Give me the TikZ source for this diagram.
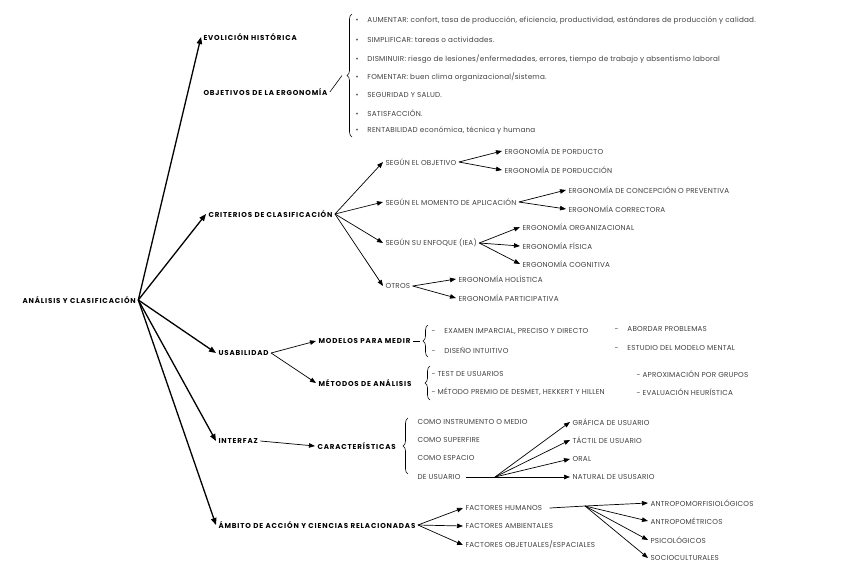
\documentclass[tikz,border=0pt]{standalone}
\usepackage{fontspec}
\setmainfont{Poppins}
\newfontfamily\itemfont[LetterSpace=3]{Poppins}
\newfontfamily\headfont[LetterSpace=12]{Poppins}
\usetikzlibrary{arrows.meta,decorations.pathreplacing}

\begin{document}
\begin{tikzpicture}[
    x=1pt, y=-1pt,
    head/.style={
        font=\headfont\bfseries\fontsize{7.1}{8}\selectfont,
        anchor=west,
        inner sep=1pt,
        outer sep=1.5pt
    },
    item/.style={
        font=\itemfont\fontsize{7.2}{8}\selectfont,
        text=black!75,
        anchor=west,
        inner sep=1pt,
        outer sep=1.5pt
    },
    arr/.style={
        -{Triangle[length=6pt,width=4.5pt]},
        line width=0.7pt
    },
    bigarr/.style={
        -{Triangle[length=7pt,width=5.5pt]},
        line width=1.3pt
    },
    brc/.style={
        decorate,
        decoration={brace, amplitude=5pt},
        line width=0.6pt
    }
]

\useasboundingbox (0,0) rectangle (848,587);

% ============================================================
% Root
% ============================================================

\node[head] (root) at (20,300)
{ANÁLISIS Y CLASIFICACIÓN};

\node[head] (evol) at (201,37)
{EVOLICIÓN HISTÓRICA};

\node[head] (criter) at (206,214)
{CRITERIOS DE CLASIFICACIÓN};

\node[head] (usab) at (216,353)
{USABILIDAD};

\node[head] (interf) at (216,441)
{INTERFAZ};

\node[head] (ambito) at (216,525)
{ÁMBITO DE ACCIÓN Y CIENCIAS RELACIONADAS};

\draw[bigarr] (root.east) -- (evol.west);
\draw[bigarr] (root.east) -- (criter.west);
\draw[bigarr] (root.east) -- (usab.west);
\draw[bigarr] (root.east) -- (interf.west);
\draw[bigarr] (root.east) -- (ambito.west);

% ============================================================
% Objetivos
% ============================================================

\node[head] (objet) at (201,92)
{OBJETIVOS DE LA ERGONOMÍA};

\draw[brc] (352,137) -- (352,14) coordinate[pos=0.5,xshift=-10pt] (objtip);
\draw[line width=0.6pt] (objet.east) -- (objtip);

\node[item] (obj1) at (353,21)
{•\hspace{9pt}AUMENTAR: confort, tasa de producción, eficiencia, productividad, estándares de producción y calidad.};
\node[item] (obj2) at (353,40)
{•\hspace{9pt}SIMPLIFICAR: tareas o actividades.};
\node[item] (obj3) at (353,59)
{•\hspace{9pt}DISMINUIR: riesgo de lesiones/enfermedades, errores, tiempo de trabajo y absentismo laboral};
\node[item] (obj4) at (353,77)
{•\hspace{9pt}FOMENTAR: buen clima organizacional/sistema.};
\node[item] (obj5) at (353,95)
{•\hspace{9pt}SEGURIDAD Y SALUD.};
\node[item] (obj6) at (353,113)
{•\hspace{9pt}SATISFACCIÓN.};
\node[item] (obj7) at (353,131)
{•\hspace{9pt}RENTABILIDAD económica, técnica y humana};

% ============================================================
% Criterios
% ============================================================

\node[item] (segobj) at (383,162) {SEGÚN EL OBJETIVO};
\node[item] (segmom) at (383,202) {SEGÚN EL MOMENTO DE APLICACIÓN};
\node[item] (segenf) at (383,243) {SEGÚN SU ENFOQUE (IEA)};
\node[item] (otros) at (383,286) {OTROS};

\draw[arr] (criter.east) -- (segobj.west);
\draw[arr] (criter.east) -- (segmom.west);
\draw[arr] (criter.east) -- (segenf.west);
\draw[arr] (criter.east) -- (otros.west);

\node[item] (eprod) at (502,151) {ERGONOMÍA DE PORDUCTO};
\node[item] (eprodc) at (502,170) {ERGONOMÍA DE PORDUCCIÓN};
\draw[arr] (segobj.east) -- (eprod.west);
\draw[arr] (segobj.east) -- (eprodc.west);

\node[item] (econc) at (566,190) {ERGONOMÍA DE CONCEPCIÓN O PREVENTIVA};
\node[item] (ecorr) at (566,209) {ERGONOMÍA CORRECTORA};
\draw[arr] (segmom.east) -- (econc.west);
\draw[arr] (segmom.east) -- (ecorr.west);

\node[item] (eorg) at (520,227) {ERGONOMÍA ORGANIZACIONAL};
\node[item] (efis) at (520,246) {ERGONOMÍA FÍSICA};
\node[item] (ecog) at (520,264) {ERGONOMÍA COGNITIVA};
\draw[arr] (segenf.east) -- (eorg.west);
\draw[arr] (segenf.east) -- (efis.west);
\draw[arr] (segenf.east) -- (ecog.west);

\node[item] (ehol) at (456,279) {ERGONOMÍA HOLÍSTICA};
\node[item] (epart) at (456,298) {ERGONOMÍA PARTICIPATIVA};
\draw[arr] (otros.east) -- (ehol.west);
\draw[arr] (otros.east) -- (epart.west);

% ============================================================
% Usabilidad
% ============================================================

\node[head] (modelos) at (316,341) {MODELOS PARA MEDIR};
\node[head] (metodos) at (316,383) {MÉTODOS DE ANÁLISIS};
\draw[arr] (usab.east) -- (modelos.west);
\draw[arr] (usab.east) -- (metodos.west);

\draw[brc] (428,357) -- (428,325) coordinate[pos=0.5,xshift=-8pt] (modtip);
\draw[line width=0.6pt] (modelos.east) -- (modtip);

\node[item] (mod1) at (429,331) {-\hspace{9pt}EXAMEN IMPARCIAL, PRECISO Y DIRECTO};
\node[item] (mod2) at (429,350) {-\hspace{9pt}DISEÑO INTUITIVO};
\node[item] (mod3) at (612,329) {-\hspace{9pt}ABORDAR PROBLEMAS};
\node[item] (mod4) at (612,348) {-\hspace{9pt}ESTUDIO DEL MODELO MENTAL};

\draw[brc] (430,400) -- (430,366);

\node[item] (met1) at (429,374) {- TEST DE USUARIOS};
\node[item] (met2) at (429,392) {- MÉTODO PREMIO DE DESMET, HEKKERT Y HILLEN};
\node[item] (met3) at (634,374) {- APROXIMACIÓN POR GRUPOS};
\node[item] (met4) at (634,392) {- EVALUACIÓN HEURÍSTICA};

% ============================================================
% Interfaz
% ============================================================

\node[head] (caract) at (315,446) {CARACTERÍSTICAS};
\draw[arr] (interf.east) -- (caract.west);

\draw[brc] (408,474) -- (408,418);

\node[item] (car1) at (415,422) {COMO INSTRUMENTO O MEDIO};
\node[item] (car2) at (415,440) {COMO SUPERFIRE};
\node[item] (car3) at (415,458) {COMO ESPACIO};
\node[item] (car4) at (415,477) {DE USUARIO};

\coordinate (fkusu) at (495,477);
\draw[line width=0.7pt] (car4.east) ++(3pt,0) -- (fkusu);

\node[item] (graf) at (570,422) {GRÁFICA DE USUARIO};
\node[item] (tact) at (570,440) {TÁCTIL DE USUARIO};
\node[item] (oral) at (570,459) {ORAL};
\node[item] (natur) at (570,477) {NATURAL DE USUSARIO};
\draw[arr] (fkusu) -- (graf.west);
\draw[arr] (fkusu) -- (tact.west);
\draw[arr] (fkusu) -- (oral.west);
\draw[arr] (fkusu) -- (natur.west);

% ============================================================
% Ambito
% ============================================================

\node[item] (fhum) at (463,508) {FACTORES HUMANOS};
\node[item] (famb) at (463,526) {FACTORES AMBIENTALES};
\node[item] (fobj) at (463,545) {FACTORES OBJETUALES/ESPACIALES};
\draw[arr] (ambito.east) -- (fhum.west);
\draw[arr] (ambito.east) -- (famb.west);
\draw[arr] (ambito.east) -- (fobj.west);

\coordinate (fkhum) at (585,506);
\draw[line width=0.7pt] (fhum.east) ++(5pt,0) -- (fkhum);

\node[item] (antfis) at (648,503) {ANTROPOMORFISIOLÓGICOS};
\node[item] (antmet) at (648,521) {ANTROPOMÉTRICOS};
\node[item] (psico) at (648,540) {PSICOLÓGICOS};
\node[item] (socio) at (648,558) {SOCIOCULTURALES};
\draw[arr] (fkhum) -- (antfis.west);
\draw[arr] (fkhum) -- (antmet.west);
\draw[arr] (fkhum) -- (psico.west);
\draw[arr] (fkhum) -- (socio.west);

\end{tikzpicture}
\end{document}
